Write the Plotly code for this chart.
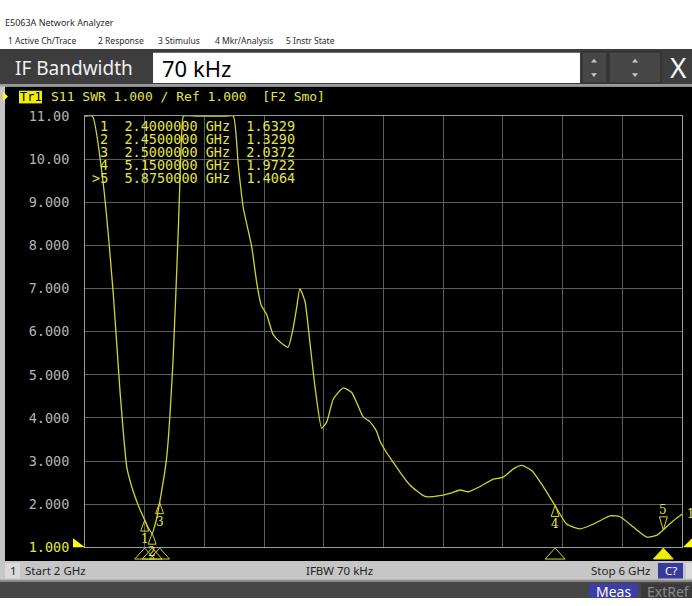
import plotly.graph_objects as go

W, H = 692, 606

# ---------------- data ----------------
freq_ghz = [2.00, 2.05, 2.12, 2.19, 2.235, 2.28, 2.32, 2.36, 2.40, 2.425, 2.45, 2.475, 2.50,
            2.547, 2.59, 2.625, 2.648, 2.66, 2.75, 2.85, 2.95, 2.994, 3.027, 3.06, 3.117,
            3.15, 3.18, 3.217, 3.26, 3.307, 3.36, 3.395, 3.42, 3.44, 3.474, 3.508, 3.54,
            3.586, 3.62, 3.664, 3.73, 3.787, 3.82, 3.865, 3.91, 3.954, 3.977, 4.02, 4.066,
            4.12, 4.178, 4.278, 4.379, 4.45, 4.513, 4.568, 4.647, 4.736, 4.803, 4.87, 4.926,
            4.993, 5.07, 5.149, 5.227, 5.317, 5.406, 5.518, 5.585, 5.674, 5.763, 5.83,
            5.875, 5.942, 6.0]
swr = [11.0, 11.0, 9.5, 6.85, 4.6, 2.86, 2.33, 1.95, 1.633, 1.45, 1.329, 1.6, 2.037,
       3.08, 5.34, 8.36, 10.6, 11.0, 11.0, 11.0, 11.0, 11.0, 9.86, 8.88, 7.97,
       7.15, 6.62, 6.4, 5.94, 5.76, 5.64, 6.09, 6.6, 7.0, 6.7, 5.72, 4.75,
       3.76, 3.91, 4.44, 4.70, 4.59, 4.36, 4.02, 3.91, 3.69, 3.46, 3.2, 2.97,
       2.7, 2.44, 2.18, 2.20, 2.26, 2.33, 2.29, 2.41, 2.58, 2.63, 2.82, 2.90,
       2.78, 2.41, 1.972, 1.54, 1.43, 1.54, 1.73, 1.71, 1.47, 1.24, 1.28,
       1.406, 1.62, 1.77]

marker_ids = ["1", "2", "3", "4", "5"]
marker_freq_ghz = [2.40, 2.45, 2.50, 5.15, 5.875]
marker_swr = [1.6329, 1.3290, 2.0372, 1.9722, 1.4064]
active_marker = "5"

ytick_vals = [1, 2, 3, 4, 5, 6, 7, 8, 9, 10, 11]
ytick_text = ["1.000", "2.000", "3.000", "4.000", "5.000", "6.000", "7.000",
              "8.000", "9.000", "10.00", "11.00"]
ref_value = 1.0
start_ghz, stop_ghz, x_div = 2.0, 6.0, 0.4

menu_items = ["1 Active Ch/Trace", "2 Response", "3 Stimulus", "4 Mkr/Analysis", "5 Instr State"]

# ---------------- styling helpers ----------------
def px(x):
    return x / W


def py(y):
    return 1 - y / H


YEL = "#d4d42c"
TXT_Y = "#e4e44a"
MONO = "DejaVu Sans Mono"
SANS = "Noto Sans"
NB = "\u00a0"

fig = go.Figure()
fig.add_trace(go.Scatter(x=freq_ghz, y=swr, mode="lines",
                         line=dict(color=YEL, width=1.3, shape="spline", smoothing=0.5),
                         hoverinfo="skip", showlegend=False))

shapes = []
ann = []


def rect(x0, y0, x1, y1, fill, line=None, layer="below"):
    shapes.append(dict(type="rect", xref="paper", yref="paper",
                       x0=px(x0), x1=px(x1), y0=py(y1), y1=py(y0),
                       fillcolor=fill, layer=layer,
                       line=dict(width=1 if line else 0, color=line or fill)))


def text(x, y, s, size, color, family=SANS, xanchor="left"):
    ann.append(dict(xref="paper", yref="paper", x=px(x), y=py(y), text=s,
                    showarrow=False, xanchor=xanchor, yanchor="middle",
                    font=dict(size=size, color=color, family=family)))


def tri(points, fill, line=None):
    p = " ".join(("M" if i == 0 else "L") + f"{px(a):.5f},{py(b):.5f}" for i, (a, b) in enumerate(points)) + " Z"
    shapes.append(dict(type="path", xref="paper", yref="paper", path=p,
                       fillcolor=fill, line=dict(width=0 if line is None else 1, color=line or fill)))


# backgrounds
rect(0, 0, W, 42, "#ffffff")
rect(0, 42, W, 78, "#3d3d3d")
rect(0, 78, W, 81, "#9a9a9a")
rect(0, 81, W, 568, "#c4c4c4")
rect(5, 81, W, 568, "#000000")
rect(0, 568, W, 587, "#c6c6c6")
rect(5, 570, 20, 586, "#dadada")
rect(0, 587, W, 589, "#8e8e8e")
rect(0, 589, W, H, "#464646")

# title bar
text(3, 15, "E5063A Network Analyzer", 9, "#2a2a2a")
menu_x = [6, 96, 156, 213, 284]
for mx, item in zip(menu_x, menu_items):
    text(mx, 33, item, 8.5, "#2a2a2a")

# entry bar
text(13, 62, "IF Bandwidth", 19, "#f0f0f0")
rect(153, 46, 580, 77, "#ffffff", layer="above")
text(160, 62, "70 kHz", 22, "#000000")
rect(582, 45, 607, 77, "#474747", line="#2c2c2c", layer="above")
rect(609, 45, 661, 77, "#474747", line="#2c2c2c", layer="above")
for cx in (594, 635):
    tri([(cx - 3, 56), (cx + 3, 56), (cx, 52)], "#c8c8c8")
    tri([(cx - 3, 67), (cx + 3, 67), (cx, 71)], "#c8c8c8")
text(678, 61, "X", 28, "#f4f4f4", xanchor="center")

# trace header
tri([(3, 86), (8, 91), (3, 96)], "#ffff00")
rect(19, 85, 42, 98, "#f0f000", layer="above")
text(30.5, 91.5, "Tr1", 12, "#000000", MONO, xanchor="center")
text(49, 91, "S11 SWR 1.000 / Ref 1.000  [F2 Smo]".replace(" ", NB), 13, TXT_Y, MONO)

# marker table
for mid, f, v in zip(marker_ids, marker_freq_ghz, marker_swr):
    lead = (">" + mid) if mid == active_marker else mid
    line = f"{lead}  {f:.7f} GHz  {v:.4f}".replace(" ", NB)
    row = marker_ids.index(mid)
    x0 = 100 - (8.13 if mid == active_marker else 0)
    text(x0 - 2, 121 + 13.3 * row, line, 13.5, TXT_Y, MONO)

# markers on the trace and at the bottom
for mid, f, v in zip(marker_ids, marker_freq_ghz, marker_swr):
    active = mid == active_marker
    if active:
        path = "M0,0 L-4,13 L4,13 Z"
        shift = 20
    else:
        path = "M0,0 L-4,-11 L4,-11 Z"
        shift = -19
    shapes.append(dict(type="path", xref="x", yref="y", xsizemode="pixel", ysizemode="pixel",
                       xanchor=f, yanchor=v, path=path,
                       line=dict(color=YEL, width=1), fillcolor="rgba(0,0,0,0)"))
    ann.append(dict(xref="x", yref="y", x=f, y=v, yshift=shift, text=mid, showarrow=False,
                    font=dict(size=12, color=TXT_Y, family="DejaVu Serif")))
    shapes.append(dict(type="path", xref="x", yref="paper", xsizemode="pixel", ysizemode="pixel",
                       xanchor=f, yanchor=py(566), path="M-10,0 L10,0 L0,11 Z",
                       line=dict(color=YEL, width=1),
                       fillcolor="#f0f000" if active else "rgba(0,0,0,0)"))

# trace end label
ann.append(dict(xref="x", yref="y", x=freq_ghz[-1], y=swr[-1], xshift=3, xanchor="left",
                text="1", showarrow=False, font=dict(size=12, color=TXT_Y, family="DejaVu Serif")))

# reference position arrows
shapes.append(dict(type="path", xref="paper", yref="y", xsizemode="pixel", ysizemode="pixel",
                   xanchor=px(85), yanchor=ref_value, path="M0,0 L-12,9 L-12,-9 Z",
                   fillcolor="#ffff00", line=dict(width=0)))
shapes.append(dict(type="path", xref="paper", yref="y", xsizemode="pixel", ysizemode="pixel",
                   xanchor=px(683), yanchor=ref_value, path="M0,0 L10,10 L10,-10 Z",
                   fillcolor="#ffff00", line=dict(width=0)))

# status bar
text(8, 578, "1", 11.5, "#222222")
text(23, 578, f"Start {start_ghz:g} GHz", 11.5, "#222222")
text(339, 578, "IFBW 70 kHz", 11.5, "#222222", xanchor="center")
text(652, 578, f"Stop {stop_ghz:g} GHz", 11.5, "#222222", xanchor="right")
rect(658, 570, 683, 586, "#3a3a9c", layer="above")
text(670.5, 578, "C?", 11.5, "#ffffff", xanchor="center")
rect(686, 570, W, 586, "#dadada", layer="above")

# bottom bar
rect(589, 591, 638, H, "#3d3da4", layer="above")
text(613.5, 599, "Meas", 14, "#ffffff", xanchor="center")
rect(641, 591, W, H, "#3a3a3a", layer="above")
text(645, 599, "ExtRef", 14, "#8a8a8a")

ticktext = [f'<span style="color:{TXT_Y}">{t}</span>' if v == ref_value else t
            for v, t in zip(ytick_vals, ytick_text)]

fig.update_layout(
    width=W, height=H, margin=dict(l=0, r=0, t=0, b=0, pad=0),
    paper_bgcolor="#ffffff", plot_bgcolor="#000000",
    showlegend=False, shapes=shapes, annotations=ann,
    xaxis=dict(domain=[px(85), px(682)], range=[start_ghz, stop_ghz], tick0=start_ghz, dtick=x_div,
               showgrid=True, gridcolor="#5c5c5c", gridwidth=1, zeroline=False,
               showticklabels=False, ticks="", showline=True, linecolor="#9c9c9c",
               linewidth=1, mirror=True, fixedrange=True),
    yaxis=dict(domain=[py(554), py(111)], range=[1, 11], tickmode="array",
               tickvals=ytick_vals, ticktext=ticktext,
               tickfont=dict(family=MONO, size=13.5, color="#b4b4b4"),
               ticks="outside", ticklen=12, tickcolor="rgba(0,0,0,0)",
               showgrid=True, gridcolor="#5c5c5c", gridwidth=1, zeroline=False,
               showline=True, linecolor="#9c9c9c", linewidth=1, mirror=True, fixedrange=True),
)

fig.write_html("out.html", config={"displayModeBar": False},
               post_script="document.body.style.margin='0';document.body.style.overflow='hidden';")
